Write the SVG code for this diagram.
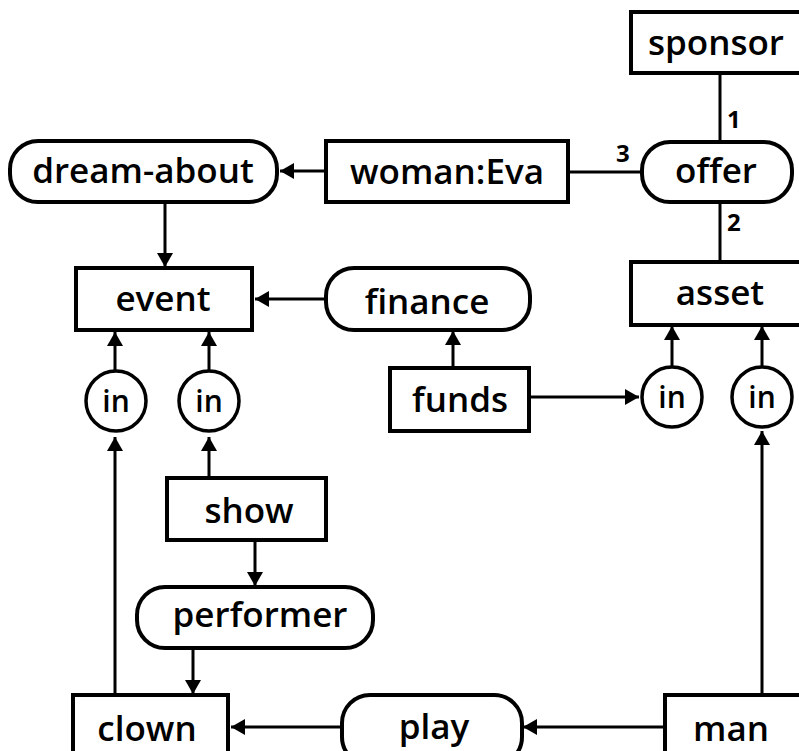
<svg xmlns="http://www.w3.org/2000/svg" width="799" height="751" viewBox="0 0 799 751">
  <defs>
    <marker id="arrow" markerUnits="userSpaceOnUse" markerWidth="16" markerHeight="18" refX="14" refY="8" orient="auto">
      <path d="M0,0 L14,8 L0,16 Z" fill="#000"/>
    </marker>
    <style>
      .concept { fill: #fff; stroke: #000; stroke-width: 4; }
      .relation { fill: #fff; stroke: #000; stroke-width: 4; }
      .ring { fill: #fff; stroke: #000; stroke-width: 3.5; }
      .lbl { font-family: "Open Sans", "DejaVu Sans", sans-serif; font-weight: 600; font-size: 35px; fill: #000; text-anchor: middle; }
      .small { font-family: "Open Sans", "DejaVu Sans", sans-serif; font-weight: 600; font-size: 30px; fill: #000; text-anchor: middle; }
      .arc { font-family: "Open Sans", "DejaVu Sans", sans-serif; font-weight: 700; font-size: 24px; fill: #000; }
      .edge { stroke: #000; stroke-width: 3; fill: none; }
      .arrow { marker-end: url(#arrow); }
    </style>
  </defs>
  <rect width="799" height="751" fill="#fff"/>

  <!-- connectors -->
  <g id="connectors">
    <line class="edge arrow" x1="326" y1="171" x2="280" y2="171"/>
    <line class="edge arrow" x1="165" y1="202" x2="165" y2="267"/>
    <line class="edge arrow" x1="326" y1="299" x2="255" y2="299"/>
    <line class="edge arrow" x1="115" y1="371" x2="115" y2="332"/>
    <line class="edge arrow" x1="209" y1="371" x2="209" y2="332"/>
    <line class="edge arrow" x1="115" y1="695" x2="115" y2="437"/>
    <line class="edge arrow" x1="209" y1="478" x2="209" y2="437"/>
    <line class="edge arrow" x1="255" y1="540" x2="255" y2="586"/>
    <line class="edge arrow" x1="193" y1="648" x2="193" y2="694"/>
    <line class="edge arrow" x1="342" y1="727" x2="231" y2="727"/>
    <line class="edge arrow" x1="665" y1="727" x2="523" y2="727"/>
    <line class="edge arrow" x1="762" y1="695" x2="762" y2="431"/>
    <line class="edge arrow" x1="672" y1="366" x2="672" y2="326"/>
    <line class="edge arrow" x1="762" y1="366" x2="762" y2="326"/>
    <line class="edge arrow" x1="529" y1="397" x2="639" y2="397"/>
    <line class="edge arrow" x1="453" y1="368" x2="453" y2="331"/>
    <line class="edge" x1="720" y1="73" x2="720" y2="142"/>
    <line class="edge" x1="568" y1="172" x2="642" y2="172"/>
    <line class="edge" x1="720" y1="202" x2="720" y2="262"/>
    <text class="arc" x="727" y="128">1</text>
    <text class="arc" x="727" y="231">2</text>
    <text class="arc" x="616" y="162">3</text>
  </g>

  <!-- concepts and relations -->
  <g id="sponsor">
    <rect class="concept" x="631" y="12" width="180" height="61"/>
    <text class="lbl" x="716" y="55">sponsor</text>
  </g>
  <g id="dream-about">
    <rect class="relation" x="10" y="141" width="267" height="61" rx="28"/>
    <text class="lbl" x="143" y="183">dream-about</text>
  </g>
  <g id="woman-eva">
    <rect class="concept" x="326" y="141" width="242" height="61"/>
    <text class="lbl" x="447" y="184">woman:Eva</text>
  </g>
  <g id="offer">
    <rect class="relation" x="642" y="142" width="150" height="60" rx="28"/>
    <text class="lbl" x="716" y="183">offer</text>
  </g>
  <g id="event">
    <rect class="concept" x="76" y="268" width="176" height="62"/>
    <text class="lbl" x="163" y="311">event</text>
  </g>
  <g id="finance">
    <rect class="relation" x="326" y="268" width="204" height="62" rx="28"/>
    <text class="lbl" x="427" y="314">finance</text>
  </g>
  <g id="asset">
    <rect class="concept" x="631" y="262" width="180" height="63"/>
    <text class="lbl" x="720" y="305">asset</text>
  </g>
  <g id="in-1">
    <circle class="ring" cx="116" cy="401" r="30"/>
    <text class="small" x="116" y="412">in</text>
  </g>
  <g id="in-2">
    <circle class="ring" cx="209" cy="401" r="30"/>
    <text class="small" x="209" y="412">in</text>
  </g>
  <g id="funds">
    <rect class="concept" x="390" y="368" width="139" height="63"/>
    <text class="lbl" x="460" y="412">funds</text>
  </g>
  <g id="in-3">
    <circle class="ring" cx="672" cy="397" r="30"/>
    <text class="small" x="672" y="408">in</text>
  </g>
  <g id="in-4">
    <circle class="ring" cx="762" cy="397" r="30"/>
    <text class="small" x="762" y="408">in</text>
  </g>
  <g id="show">
    <rect class="concept" x="167" y="478" width="159" height="62"/>
    <text class="lbl" x="249" y="523">show</text>
  </g>
  <g id="performer">
    <rect class="relation" x="137" y="587" width="236" height="61" rx="28"/>
    <text class="lbl" x="260" y="627">performer</text>
  </g>
  <g id="clown">
    <rect class="concept" x="73" y="695" width="155" height="70"/>
    <text class="lbl" x="147" y="741">clown</text>
  </g>
  <g id="play">
    <rect class="relation" x="342" y="695" width="180" height="70" rx="28"/>
    <text class="lbl" x="434" y="739">play</text>
  </g>
  <g id="man">
    <rect class="concept" x="665" y="695" width="150" height="70"/>
    <text class="lbl" x="731" y="741">man</text>
  </g>
</svg>
